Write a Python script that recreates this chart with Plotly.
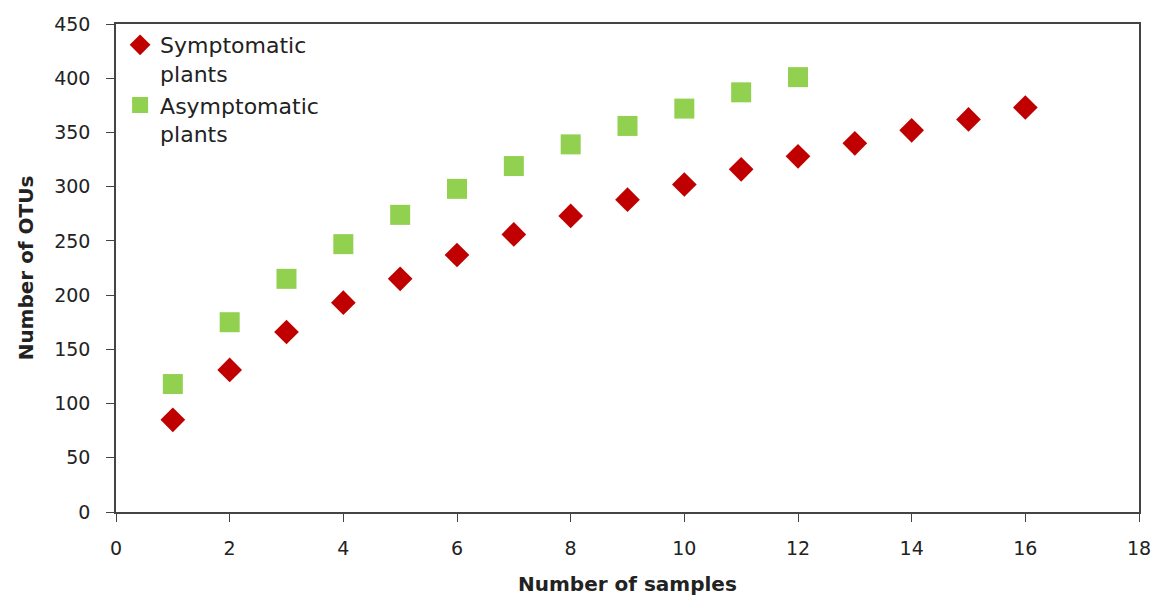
import plotly.graph_objects as go

samples_sym = list(range(1, 17))
otus_sym = [85, 131, 166, 193, 215, 237, 256, 273, 288, 302, 316, 328, 340, 352, 362, 373]
samples_asym = list(range(1, 13))
otus_asym = [118, 175, 215, 247, 274, 298, 319, 339, 356, 372, 387, 401]

font_family = "DejaVu Sans, sans-serif"

fig = go.Figure()
fig.add_trace(go.Scatter(
    x=samples_sym, y=otus_sym, mode="markers", name="Symptomatic<br>plants",
    marker=dict(symbol="diamond", size=19, color="#C00000"),
))
fig.add_trace(go.Scatter(
    x=samples_asym, y=otus_asym, mode="markers", name="Asymptomatic<br>plants",
    marker=dict(symbol="square", size=20, color="#92D050"),
))

fig.update_layout(
    width=1144, height=591,
    margin=dict(l=108, r=13, t=16, b=87),
    paper_bgcolor="white", plot_bgcolor="white",
    font=dict(family=font_family, size=19, color="#222"),
    showlegend=True,
    legend=dict(x=0.004, y=1.0, xanchor="left", yanchor="top",
                bgcolor="rgba(0,0,0,0)", font=dict(size=22), valign="top",
                itemsizing="trace", tracegroupgap=20, itemwidth=30),
    xaxis=dict(range=[0, 18], dtick=2, tick0=0, showgrid=False, zeroline=False,
               showline=True, linecolor="#444", linewidth=1.5, mirror=True,
               ticks="outside", ticklen=8, tickcolor="#444", automargin=False,
               ticklabelstandoff=10),
    yaxis=dict(range=[0, 450], dtick=50, tick0=0, showgrid=False, zeroline=False,
               showline=True, linecolor="#444", linewidth=1.5, mirror=True,
               ticks="outside", ticklen=8, tickcolor="#444", automargin=False,
               ticklabelstandoff=12,
               title=dict(text="<b>Number of OTUs</b>", font=dict(size=20))),
    annotations=[dict(text="<b>Number of samples</b>", xref="paper", yref="paper",
                      x=0.5, y=0, xanchor="center", yanchor="middle", yshift=-72,
                      showarrow=False, font=dict(size=20))],
)

fig.write_html("out.html")
